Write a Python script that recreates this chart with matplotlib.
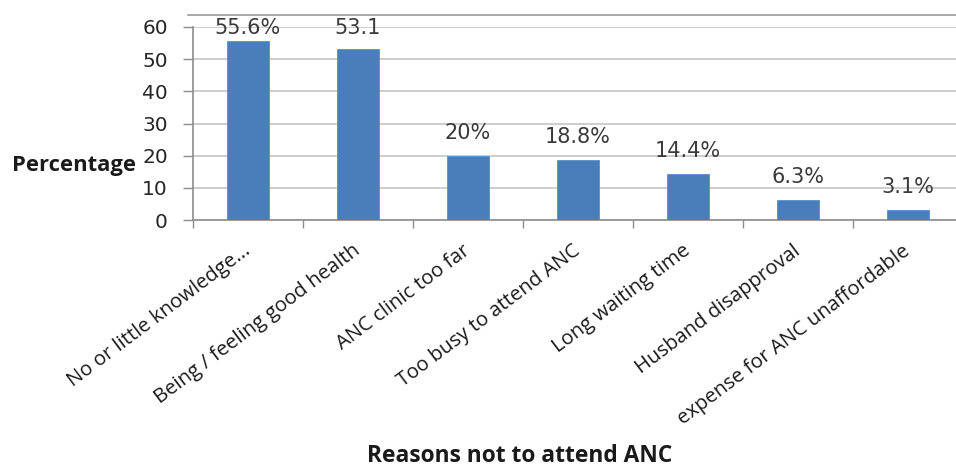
import matplotlib
matplotlib.use("Agg")
import matplotlib.pyplot as plt
import matplotlib.transforms as mtransforms
import numpy as np

# Reasons given for not attending antenatal care, with their shares (%)
reasons = [
    "No or little knowledge...",
    "Being / feeling good health",
    "ANC clinic too far",
    "Too busy to attend ANC",
    "Long waiting time",
    "Husband disapproval",
    "expense for ANC unaffordable",
]
percent = [55.6, 53.1, 20.0, 18.8, 14.4, 6.3, 3.1]
value_labels = ["55.6%", "53.1", "20%", "18.8%", "14.4%", "6.3%", "3.1%"]
y_ticks = [0, 10, 20, 30, 40, 50, 60]

W, H = 956, 468
fig = plt.figure(figsize=(W / 100, H / 100), dpi=100)

# plot area in pixel terms (left edge, zero line, top gridline, category width)
left_px, zero_px, top_px, cat_px = 193, 220, 27, 110
n = len(reasons)
ax = fig.add_axes([left_px / W, (H - zero_px) / H,
                   n * cat_px / W, (zero_px - top_px) / H])

bar_color = "#4a7ebb"
x = np.arange(n)
ax.bar(x, percent, width=0.39, color=bar_color, edgecolor="#5b8fcc",
       linewidth=0.6, zorder=3)

ax.set_xlim(-0.5, n - 0.5)
ax.set_ylim(0, 60)

grid_c = "#c0c0c0"
axis_c = "#8c8c8c"
ax.set_yticks(y_ticks)
ax.yaxis.grid(True, color=grid_c, linewidth=1.1, zorder=0)
ax.set_axisbelow(True)

for s in ("top", "right"):
    ax.spines[s].set_visible(False)
for s in ("left", "bottom"):
    ax.spines[s].set_color(axis_c)
    ax.spines[s].set_linewidth(1.2)

# outer chart frame line above the plot
ax.axhline(63.7, xmin=-0.006, xmax=1, color="#9a9a9a", linewidth=1.2,
           clip_on=False)

ax.tick_params(axis="y", direction="out", length=7, width=1.0, color=axis_c,
               pad=11, labelsize=14.5, labelcolor="#262626")
for t in ax.get_yticklabels():
    t.set_fontfamily("DejaVu Sans")

# category boundaries carry the tick marks, centres carry the labels
ax.set_xticks(np.arange(n + 1) - 0.5)
ax.set_xticklabels([])
ax.tick_params(axis="x", which="major", direction="out", length=6,
               width=1.0, color=axis_c)
ax.set_xticks(x, minor=True)
ax.set_xticklabels(reasons, minor=True, rotation=37, ha="right", va="top",
                   fontsize=14.6, family="Open Sans", color="#1a1a1a")
ax.tick_params(axis="x", which="minor", length=0, pad=15)
offset = mtransforms.ScaledTranslation(6 / 100, 0, fig.dpi_scale_trans)
for t in ax.get_xticklabels(minor=True):
    t.set_transform(t.get_transform() + offset)

# value labels above each bar, held below the top gridline
for xi, v, lab in zip(x, percent, value_labels):
    ly = min(v + 4.0, 56.5)
    ax.text(xi, ly, lab, ha="center", va="bottom", fontsize=15,
            family="DejaVu Sans", color="#3a3a3a", zorder=4)

fig.text(12 / W, 1 - 165 / H, "Percentage", ha="left", va="center",
         fontsize=15.8, fontweight="bold", family="Open Sans", color="#1a1a1a")
fig.text(520 / W, 6 / H, "Reasons not to attend ANC", ha="center",
         va="baseline", fontsize=16.4, fontweight="bold", family="Open Sans",
         color="#1a1a1a")

fig.savefig("out.png", dpi=100)
